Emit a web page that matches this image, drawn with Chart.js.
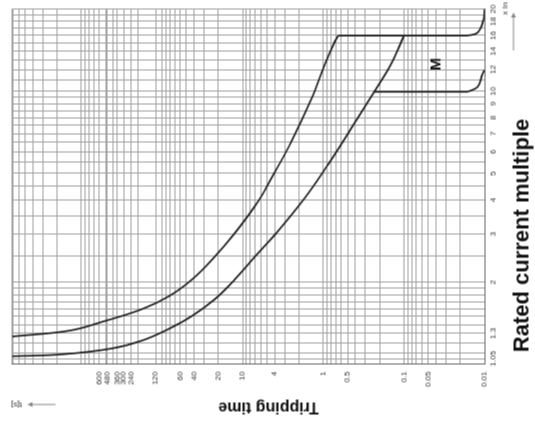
<!DOCTYPE html>
<html><head><meta charset="utf-8">
<script src="https://cdn.jsdelivr.net/npm/chart.js@4.4.0/dist/chart.umd.min.js"></script>
<style>
html,body{margin:0;padding:0;background:#fff;overflow:hidden;width:535px;height:428px;}
#wrap{position:absolute;left:53.5px;top:-53.5px;width:428px;height:535px;transform:rotate(-90deg);transform-origin:50% 50%;}
canvas{display:block;}
</style></head><body>
<div id="wrap"><canvas id="c" width="428" height="535" style="width:428px;height:535px"></canvas></div>
<script>
// Rated current multiple (I/In) and tripping time (s)
const curveA_mult = [1.266, 1.331, 1.435, 1.597, 1.781, 2.05, 2.42, 3.03, 3.99, 4.83, 6.56, 9.39, 12.45, 15.07, 15.97];
const curveA_time = [7200, 1387, 543, 174.6, 81.1, 42.2, 23.9, 12.45, 6.29, 4.35, 2.47, 1.40, 0.966, 0.728, 0.650];
const curveB_mult = [1.072, 1.09, 1.146, 1.225, 1.353, 1.507, 1.737, 2.05, 2.48, 2.98, 4.06, 5.42, 7.32, 9.95, 12.56, 15.97];
const curveB_time = [7200, 1691, 409, 174.6, 81.1, 42.2, 21.97, 12.45, 7.05, 4.0, 1.706, 0.863, 0.449, 0.2336, 0.1442, 0.0997];
const instA_mult = [15.97, 15.97];
const instA_time = [0.650, 0.0162];
const hookA_mult = [15.97, 16.38, 18.25, 20];
const hookA_time = [0.0162, 0.0122, 0.0103, 0.01];
const instM_mult = [9.95, 9.95];
const instM_time = [0.2336, 0.0162];
const hookM_mult = [9.95, 10.37, 11.56, 11.95];
const hookM_time = [0.0162, 0.0122, 0.0106, 0.01];

const timeTickLabels = [0.01, 0.05, 0.1, 0.5, 1, 4, 10, 20, 40, 60, 120, 240, 300, 360, 480, 600];
const multTickLabels = [1.05, 1.3, 2, 3, 4, 5, 6, 7, 8, 9, 10, 12, 14, 16, 18, 20];

const timeMin = 0.01, timeMax = 7200;
const multMin = 1, multMax = 20;

function pts(xs, ys){ return xs.map((x,i)=>({x:x, y:ys[i]})); }

function timeGrid(){
  const v = [];
  for (let e = -2; e <= 3; e++) for (let k = 1; k <= 9; k++) v.push(+(k*Math.pow(10,e)).toPrecision(6));
  v.push(timeMax);
  timeTickLabels.forEach(t=>{ if(!v.some(a=>Math.abs(a-t)/t<1e-6)) v.push(t); });
  return v.filter(a=>a<=timeMax).sort((a,b)=>a-b);
}
function multGrid(){
  const v = [];
  for (let i = 10; i < 20; i++) v.push(i/10);
  for (let i = 4; i < 20; i++) v.push(i/2);
  for (let i = 10; i <= 20; i++) v.push(i);
  multTickLabels.forEach(t=>{ if(!v.some(a=>Math.abs(a-t)<1e-9)) v.push(t); });
  return v.sort((a,b)=>a-b);
}
function fmt(v){ return String(+v.toPrecision(6)); }

const lineDs = (data, tension) => ({
  data: data, showLine: true, borderColor: '#1a1a1a', borderWidth: 1.7,
  pointRadius: 0, tension: tension, fill: false
});

const textPlugin = {
  id: 'texts',
  afterDraw(chart){
    const ctx = chart.ctx, xs = chart.scales.x, ys = chart.scales.y;
    ctx.save();
    ctx.fillStyle = '#111';
    ctx.strokeStyle = '#888';
    ctx.font = 'bold 16px "Liberation Sans", Arial, sans-serif';
    ctx.textAlign = 'center'; ctx.textBaseline = 'middle';
    ctx.save(); ctx.translate(22, 268); ctx.rotate(-Math.PI/2); ctx.fillText('Tripping time', 0, 0); ctx.restore();
    ctx.font = 'bold 22px "Liberation Sans", Arial, sans-serif';
    ctx.fillText('Rated current multiple', 193, 522);
    ctx.font = 'bold 15px "Liberation Sans", Arial, sans-serif';
    ctx.fillText('M', xs.getPixelForValue(12.56), ys.getPixelForValue(0.039));
    ctx.lineWidth = 1;
    ctx.beginPath(); ctx.moveTo(24, 55); ctx.lineTo(24, 30); ctx.stroke();
    ctx.beginPath(); ctx.moveTo(24, 27); ctx.lineTo(21.5, 32); ctx.lineTo(26.5, 32); ctx.closePath(); ctx.fillStyle='#888'; ctx.fill();
    ctx.fillStyle = '#333';
    ctx.font = '8px "Liberation Sans", Arial, sans-serif';
    ctx.save(); ctx.translate(24, 16); ctx.rotate(-Math.PI/2); ctx.fillText('t[s]', 0, 0); ctx.restore();
    ctx.beginPath(); ctx.moveTo(378, 513); ctx.lineTo(413, 513); ctx.stroke();
    ctx.beginPath(); ctx.moveTo(416, 513); ctx.lineTo(411, 510.5); ctx.lineTo(411, 515.5); ctx.closePath(); ctx.fillStyle='#888'; ctx.fill();
    ctx.fillStyle = '#333';
    ctx.fillText('x In', 420, 505);
    ctx.restore();
  }
};

new Chart(document.getElementById('c'), {
  type: 'scatter',
  data: { datasets: [
    lineDs(pts(curveA_mult, curveA_time), 0.4),
    lineDs(pts(curveB_mult, curveB_time), 0.4),
    lineDs(pts(instA_mult, instA_time), 0),
    lineDs(pts(hookA_mult, hookA_time), 0.4),
    lineDs(pts(instM_mult, instM_time), 0),
    lineDs(pts(hookM_mult, hookM_time), 0.4)
  ]},
  options: {
    responsive: false, animation: false, devicePixelRatio: 1,
    layout: { padding: { left: 0, top: 9, right: 6, bottom: 0 } },
    plugins: { legend: { display: false }, tooltip: { enabled: false } },
    scales: {
      x: {
        type: 'logarithmic', min: multMin, max: multMax, position: 'bottom',
        afterBuildTicks: s => { s.ticks = multGrid().map(v=>({value:v})); },
        afterFit: s => { s.height = 51; },
        grid: { color: '#a0a0a0', lineWidth: 1, drawTicks: false },
        border: { display: true, color: '#666', width: 1 },
        ticks: { autoSkip: false, maxRotation: 0, minRotation: 0, padding: 4, color: '#333',
          font: { size: 8, family: '"Liberation Sans", Arial, sans-serif' },
          callback: v => multTickLabels.some(t=>Math.abs(t-v)<1e-9) ? fmt(v) : '' }
      },
      y: {
        type: 'logarithmic', min: timeMin, max: timeMax, position: 'left',
        afterBuildTicks: s => { s.ticks = timeGrid().map(v=>({value:v})); },
        afterFit: s => { s.width = 64; },
        grid: { color: '#a0a0a0', lineWidth: 1, drawTicks: false },
        border: { display: true, color: '#666', width: 1 },
        ticks: { autoSkip: false, padding: 7, color: '#333',
          font: { size: 8, family: '"Liberation Sans", Arial, sans-serif' },
          callback: v => timeTickLabels.some(t=>Math.abs(t-v)/t<1e-6) ? fmt(v) : '' }
      }
    }
  },
  plugins: [textPlugin]
});
</script>
</body></html>
